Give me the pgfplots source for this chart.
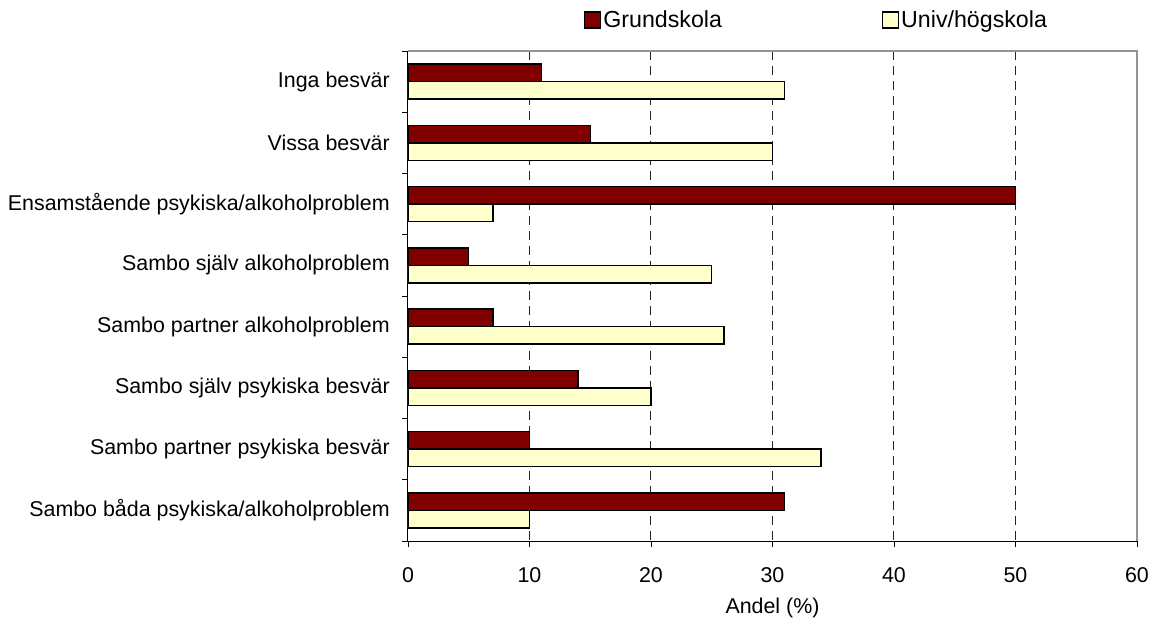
\documentclass[border=0pt]{standalone}
\usepackage{fontspec}
\setmainfont{Liberation Sans}
\usepackage{pgfplots}
\pgfplotsset{compat=1.18}
\definecolor{grund}{HTML}{800000}
\definecolor{univ}{HTML}{FFFFCC}
\begin{document}
\begin{tikzpicture}
\useasboundingbox (-408pt,-81pt) rectangle (755pt,541pt);
\begin{axis}[
  name=ax,
  at={(0pt,0pt)}, anchor=south west,
  scale only axis, width=729pt, height=490pt,
  xbar=0pt, bar width=17.5pt,
  xmin=0, xmax=60, ymin=0.5, ymax=8.5, y dir=reverse,
  axis lines*=left,
  axis line style={black, line width=1pt},
  tick align=outside, major tick length=6pt,
  tick style={black, line width=0.8pt},
  xtick={0,10,...,60},
  ytick={0.5,1.5,...,8.5}, yticklabels={},
  extra y ticks={1,2,3,4,5,6,7,8},
  extra y tick labels={Inga besvär,Vissa besvär,Ensamstående psykiska/alkoholproblem,Sambo själv alkoholproblem,Sambo partner alkoholproblem,Sambo själv psykiska besvär,Sambo partner psykiska besvär,Sambo båda psykiska/alkoholproblem},
  extra y tick style={major tick length=0pt, tick style={draw=none}, yticklabel style={inner sep=0pt, anchor=east, xshift=-18pt}},
  /pgf/number format/assume math mode=true,
  tick label style={font=\fontsize{21.4}{25}\selectfont},
  xticklabel style={inner sep=0pt, anchor=north, yshift=-20pt},
  xmajorgrids=true,
  major x grid style={black!85, line width=1pt, dash pattern=on 9pt off 6pt},
  xlabel={Andel (\%)},
  xlabel style={font=\fontsize{21.4}{25}\selectfont, at={(axis description cs:0.5,0)}, anchor=north, inner sep=0pt, yshift=-57pt},
  legend columns=2,
  legend style={draw=none, fill=none, inner sep=0pt, at={(axis description cs:0,1)}, anchor=west, xshift=176pt, yshift=31pt,
    font=\fontsize{23.2}{27}\selectfont,
    nodes={inner sep=2pt},
    /tikz/every even column/.append style={column sep=158pt}},
  legend image code/.code={\draw[#1, line width=1.2pt] (0pt,-8pt) rectangle (16pt,8pt);},
  every axis plot/.append style={draw=black, line width=1.3pt},
]
\addplot[fill=grund, bar shift=8.75pt] coordinates {(11,1) (15,2) (50,3) (5,4) (7,5) (14,6) (10,7) (31,8)};
\addplot[fill=univ, bar shift=-8.75pt] coordinates {(31,1) (30,2) (7,3) (25,4) (26,5) (20,6) (34,7) (10,8)};
\legend{Grundskola,Univ/högskola}
\end{axis}
\draw[gray!85, line width=1.6pt] (ax.north west) -- (ax.north east) -- (ax.south east);
\end{tikzpicture}
\end{document}
